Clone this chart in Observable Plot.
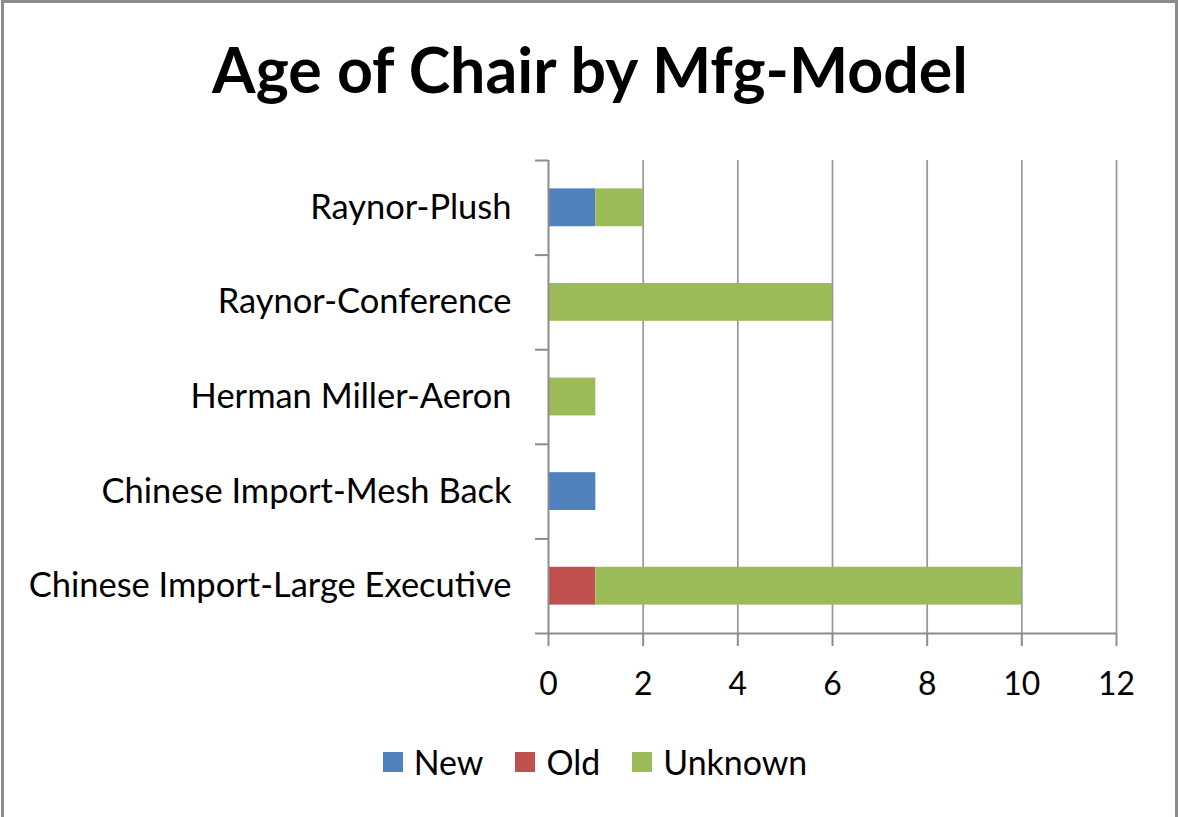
<!DOCTYPE html>
<html>
<head>
<meta charset="utf-8">
<script src="https://cdn.jsdelivr.net/npm/d3@7"></script>
<script src="https://cdn.jsdelivr.net/npm/@observablehq/plot@0.6"></script>
<style>
  html, body { margin: 0; padding: 0; background: #fff; }
  #chart { position: relative; width: 1178px; height: 817px; overflow: hidden; background: #fff; font-family: Lato, sans-serif; color: #000; }
  #border { position: absolute; left: 1px; top: 0; width: 1177px; height: 830px; box-sizing: border-box; border: 3px solid #8c8c8c; border-bottom: none; pointer-events: none; }
  #title { position: absolute; left: 1px; width: 1178px; text-align: center; font-weight: 700; white-space: nowrap; }
  #plot { position: absolute; left: 0; top: 120px; }
  #legend { position: absolute; left: 6px; top: 742px; width: 1178px; height: 40px; display: flex; justify-content: center; align-items: center; }
  .item { display: flex; align-items: center; margin: 0 16px; }
  .sw { width: 20px; height: 20px; margin-right: 11px; }
</style>
</head>
<body>
<div id="chart">
  <div id="title"></div>
  <div id="plot"></div>
  <div id="legend"></div>
  <div id="border"></div>
</div>
<script>
// ---- data ----
const titleText = "Age of Chair by Mfg-Model";
const models = ["Raynor-Plush", "Raynor-Conference", "Herman Miller-Aeron", "Chinese Import-Mesh Back", "Chinese Import-Large Executive"];
const ages = ["New", "Old", "Unknown"];
const newValues = [1, 0, 0, 1, 0];
const oldValues = [0, 0, 0, 0, 1];
const unknownValues = [1, 6, 1, 0, 9];
const xTicks = [0, 2, 4, 6, 8, 10, 12];
const colors = ["#4F81BD", "#C0504D", "#9BBB59"];

// ---- stacked table ----
const series = [newValues, oldValues, unknownValues];
const rows = [];
models.forEach((m, i) => {
  let acc = 0;
  ages.forEach((a, k) => {
    const v = series[k][i];
    if (v > 0) rows.push({model: m, i, age: a, x1: acc, x2: acc + v});
    acc += v;
  });
});

// ---- font fitting (Lato stands in for Calibri) ----
const ctx = document.createElement("canvas").getContext("2d");
function fit(text, weight, target) {
  ctx.font = `${weight} 100px Lato`;
  return 100 * target / ctx.measureText(text).width;
}
const titleFont = fit(titleText, 700, 760);
const labelFont = fit("Chinese Import-Large Executive", 400, 483);
const tickFont = fit("10", 400, 37);
const legendFont = fit("Unknown", 400, 144);

// ---- title ----
const t = document.getElementById("title");
t.textContent = titleText;
t.style.fontSize = titleFont + "px";
t.style.lineHeight = "1";
t.style.top = (94 - 0.887 * titleFont) + "px";

// ---- plot ----
const gray = "#8c8c8c";
const plot = Plot.plot({
  width: 1178,
  height: 600,
  marginTop: 40,
  marginBottom: 87,
  marginLeft: 548,
  marginRight: 62,
  style: {fontFamily: "Lato, sans-serif", background: "transparent", color: "#000"},
  x: {domain: [0, 12]},
  y: {domain: [0, models.length], reverse: true},
  color: {domain: ages, range: colors},
  marks: [
    Plot.ruleX(xTicks.filter(d => d > 0), {stroke: "#999", strokeWidth: 1.75}),
    Plot.rectX(rows, {x1: "x1", x2: "x2", y1: d => d.i + 0.3, y2: d => d.i + 0.7, fill: "age"}),
    Plot.ruleX([0], {stroke: gray, strokeWidth: 2}),
    Plot.ruleY([models.length], {stroke: gray, strokeWidth: 2}),
    Plot.axisY({ticks: d3.range(0, models.length + 1), tickFormat: () => "", tickSize: 13, stroke: gray, strokeWidth: 2, label: null}),
    Plot.axisY({ticks: models.map((_, i) => i + 0.5), tickFormat: d => models[Math.floor(d)], tickSize: 0, tickPadding: 37, fontSize: labelFont, fill: "#000", label: null}),
    Plot.axisX({ticks: xTicks, tickFormat: d => String(d), tickSize: 13, tickPadding: 26, stroke: gray, strokeWidth: 2, fontSize: tickFont, fill: "#000", label: null})
  ]
});
document.getElementById("plot").appendChild(plot);

// ---- legend ----
const lg = document.getElementById("legend");
ages.forEach((a, k) => {
  const it = document.createElement("div");
  it.className = "item";
  const sw = document.createElement("div");
  sw.className = "sw";
  sw.style.background = colors[k];
  const tx = document.createElement("span");
  tx.textContent = a;
  tx.style.fontSize = legendFont + "px";
  it.appendChild(sw);
  it.appendChild(tx);
  lg.appendChild(it);
});
</script>
</body>
</html>
